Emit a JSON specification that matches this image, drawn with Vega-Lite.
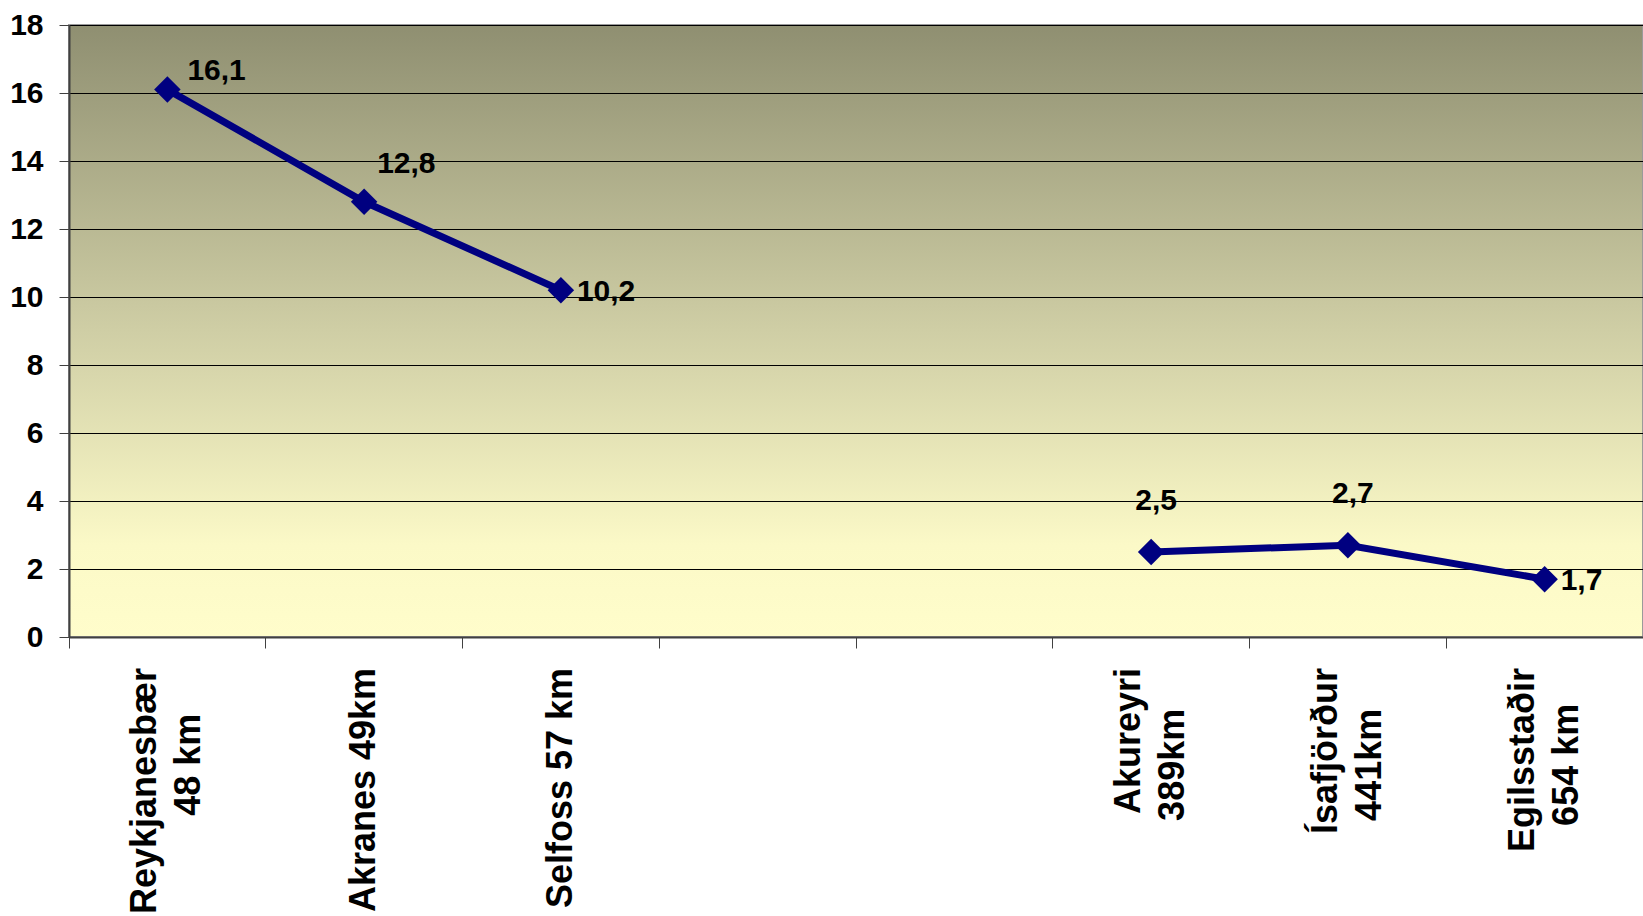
{
  "$schema": "https://vega.github.io/schema/vega-lite/v6.json",
  "width": 1574,
  "height": 612,
  "autosize": {"type": "none"},
  "padding": {"left": 69, "top": 25, "right": 0, "bottom": 279},
  "background": "white",
  "view": {
    "fill": {
      "gradient": "linear", "x1": 0, "y1": 0, "x2": 0, "y2": 1,
      "stops": [
        {"offset": 0, "color": "#8f8f71"},
        {"offset": 0.5, "color": "#cfcea5"},
        {"offset": 0.85, "color": "#fbf9c7"},
        {"offset": 1, "color": "#fffdcb"}
      ]
    },
    "stroke": "#9a9a9a",
    "strokeWidth": 2
  },
  "data": {
    "values": [
      {"stadur": "Reykjanesbær|48 km", "hluti": "nær", "ferdir": 16.1},
      {"stadur": "Akranes 49km", "hluti": "nær", "ferdir": 12.8},
      {"stadur": "Selfoss 57 km", "hluti": "nær", "ferdir": 10.2},
      {"stadur": "Akureyri|389km", "hluti": "fjær", "ferdir": 2.5},
      {"stadur": "Ísafjörður|441km", "hluti": "fjær", "ferdir": 2.7},
      {"stadur": "Egilsstaðir|654 km", "hluti": "fjær", "ferdir": 1.7}
    ]
  },
  "encoding": {
    "x": {
      "field": "stadur", "type": "nominal", "sort": null,
      "scale": {
        "type": "band", "paddingInner": 0, "paddingOuter": 0,
        "domain": ["Reykjanesbær|48 km", "Akranes 49km", "Selfoss 57 km", "_1", "_2", "Akureyri|389km", "Ísafjörður|441km", "Egilsstaðir|654 km"]
      },
      "axis": {
        "title": null,
        "labels": false,
        "bandPosition": 0,
        "tickSize": 11,
        "tickColor": "#404040",
        "tickWidth": 1,
        "domainColor": "#404040",
        "domainWidth": 2,
        "grid": false
      }
    },
    "y": {
      "field": "ferdir", "type": "quantitative",
      "scale": {"domain": [0, 18], "nice": false},
      "axis": {
        "title": null,
        "values": [0, 2, 4, 6, 8, 10, 12, 14, 16, 18],
        "labelFont": "Liberation Sans Narrow, Liberation Sans, sans-serif",
        "labelFontWeight": "bold",
        "labelFontSize": 30,
        "labelColor": "#000000",
        "labelPadding": 16,
        "tickSize": 10,
        "tickColor": "#404040",
        "domainColor": "#404040",
        "domainWidth": 2,
        "grid": true,
        "gridColor": "#000000",
        "gridWidth": 1
      }
    }
  },
  "layer": [
    {
      "transform": [{"filter": "datum.hluti == 'nær'"}],
      "mark": {"type": "line", "color": "#000080", "strokeWidth": 7}
    },
    {
      "transform": [{"filter": "datum.hluti == 'fjær'"}],
      "mark": {"type": "line", "color": "#000080", "strokeWidth": 7}
    },
    {
      "mark": {"type": "point", "shape": "diamond", "filled": true, "color": "#000080", "size": 700, "opacity": 1}
    },
    {
      "transform": [
        {"filter": "datum.stadur == 'Reykjanesbær|48 km'"},
        {"calculate": "replace(format(datum.ferdir, '.1f'), '.', ',')", "as": "merki"}
      ],
      "mark": {"type": "text", "align": "left", "baseline": "middle", "dx": 20, "dy": -19, "font": "Liberation Sans Narrow, Liberation Sans, sans-serif", "fontWeight": "bold", "fontSize": 30, "color": "#000000"},
      "encoding": {"text": {"field": "merki", "type": "nominal"}}
    },
    {
      "transform": [
        {"filter": "datum.stadur == 'Akranes 49km'"},
        {"calculate": "replace(format(datum.ferdir, '.1f'), '.', ',')", "as": "merki"}
      ],
      "mark": {"type": "text", "align": "left", "baseline": "middle", "dx": 13, "dy": -38, "font": "Liberation Sans Narrow, Liberation Sans, sans-serif", "fontWeight": "bold", "fontSize": 30, "color": "#000000"},
      "encoding": {"text": {"field": "merki", "type": "nominal"}}
    },
    {
      "transform": [
        {"filter": "datum.stadur == 'Selfoss 57 km' || datum.stadur == 'Egilsstaðir|654 km'"},
        {"calculate": "replace(format(datum.ferdir, '.1f'), '.', ',')", "as": "merki"}
      ],
      "mark": {"type": "text", "align": "left", "baseline": "middle", "dx": 16, "dy": 2, "font": "Liberation Sans Narrow, Liberation Sans, sans-serif", "fontWeight": "bold", "fontSize": 30, "color": "#000000"},
      "encoding": {"text": {"field": "merki", "type": "nominal"}}
    },
    {
      "transform": [
        {"filter": "datum.stadur == 'Akureyri|389km' || datum.stadur == 'Ísafjörður|441km'"},
        {"calculate": "replace(format(datum.ferdir, '.1f'), '.', ',')", "as": "merki"}
      ],
      "mark": {"type": "text", "align": "center", "baseline": "middle", "dx": 5, "dy": -51, "font": "Liberation Sans Narrow, Liberation Sans, sans-serif", "fontWeight": "bold", "fontSize": 30, "color": "#000000"},
      "encoding": {"text": {"field": "merki", "type": "nominal"}}
    },
    {
      "transform": [
        {"filter": "indexof(datum.stadur, '|') >= 0"},
        {"calculate": "split(datum.stadur, '|')[0]", "as": "lina1"}
      ],
      "mark": {"type": "text", "angle": 270, "align": "right", "baseline": "middle", "dy": -22, "font": "Liberation Sans, sans-serif", "fontWeight": "bold", "fontSize": 36, "color": "#000000"},
      "encoding": {
        "y": {"datum": -0.91, "type": "quantitative"},
        "text": {"field": "lina1", "type": "nominal"}
      }
    },
    {
      "transform": [
        {"filter": "indexof(datum.stadur, '|') < 0"}
      ],
      "mark": {"type": "text", "angle": 270, "align": "right", "baseline": "middle", "font": "Liberation Sans, sans-serif", "fontWeight": "bold", "fontSize": 36, "color": "#000000"},
      "encoding": {
        "y": {"datum": -0.91, "type": "quantitative"},
        "text": {"field": "stadur", "type": "nominal"}
      }
    },
    {
      "transform": [
        {"filter": "indexof(datum.stadur, '|') >= 0"},
        {"calculate": "split(datum.stadur, '|')[1]", "as": "lina2"}
      ],
      "mark": {"type": "text", "angle": 270, "align": "center", "baseline": "middle", "dy": 22, "font": "Liberation Sans, sans-serif", "fontWeight": "bold", "fontSize": 36, "color": "#000000"},
      "encoding": {
        "y": {"datum": -3.76, "type": "quantitative"},
        "text": {"field": "lina2", "type": "nominal"}
      }
    },
    {
      "data": {"values": [{"stadur": "_1"}]},
      "mark": {"type": "point", "shape": "M-0.6855,0C-0.6855,-0.3253,-0.2378,-0.589,0.3145,-0.589C0.8668,-0.589,1.3145,-0.3253,1.3145,0C1.3145,0.3253,0.8668,0.589,0.3145,0.589C-0.2378,0.589,-0.6855,0.3253,-0.6855,0Z", "filled": false, "color": "#ff3300", "strokeWidth": 6.5, "size": 352836, "opacity": 1},
      "encoding": {
        "y": {"datum": 6.32, "type": "quantitative"}
      }
    },
    {
      "data": {"values": [{"stadur": "_1"}]},
      "mark": {"type": "text", "text": "Fjöldi ferða", "dx": 83, "font": "Roboto, sans-serif", "fontStyle": "italic", "fontSize": 47, "color": "#000099", "align": "center", "baseline": "middle"},
      "encoding": {
        "y": {"datum": 9.21, "type": "quantitative"}
      }
    },
    {
      "data": {"values": [{"stadur": "_1"}]},
      "mark": {"type": "text", "text": "ferðamáti", "dx": 83, "font": "Roboto, sans-serif", "fontStyle": "italic", "fontSize": 47, "color": "#000099", "align": "center", "baseline": "middle"},
      "encoding": {
        "y": {"datum": 7.56, "type": "quantitative"}
      }
    },
    {
      "data": {"values": [{"stadur": "_1"}]},
      "mark": {"type": "text", "text": "og", "dx": 83, "font": "Roboto, sans-serif", "fontStyle": "italic", "fontSize": 47, "color": "#000099", "align": "center", "baseline": "middle"},
      "encoding": {
        "y": {"datum": 5.85, "type": "quantitative"}
      }
    },
    {
      "data": {"values": [{"stadur": "_1"}]},
      "mark": {"type": "text", "text": "erindi", "dx": 83, "font": "Roboto, sans-serif", "fontStyle": "italic", "fontSize": 47, "color": "#000099", "align": "center", "baseline": "middle"},
      "encoding": {
        "y": {"datum": 4.12, "type": "quantitative"}
      }
    },
    {
      "data": {"values": [{"stadur": "_2"}]},
      "mark": {"type": "text", "text": "Könnun 2006", "dx": -78, "font": "Roboto, sans-serif", "fontSize": 47, "color": "#ff3300", "align": "center", "baseline": "middle"},
      "encoding": {
        "y": {"datum": -1.88, "type": "quantitative"}
      }
    }
  ]
}
